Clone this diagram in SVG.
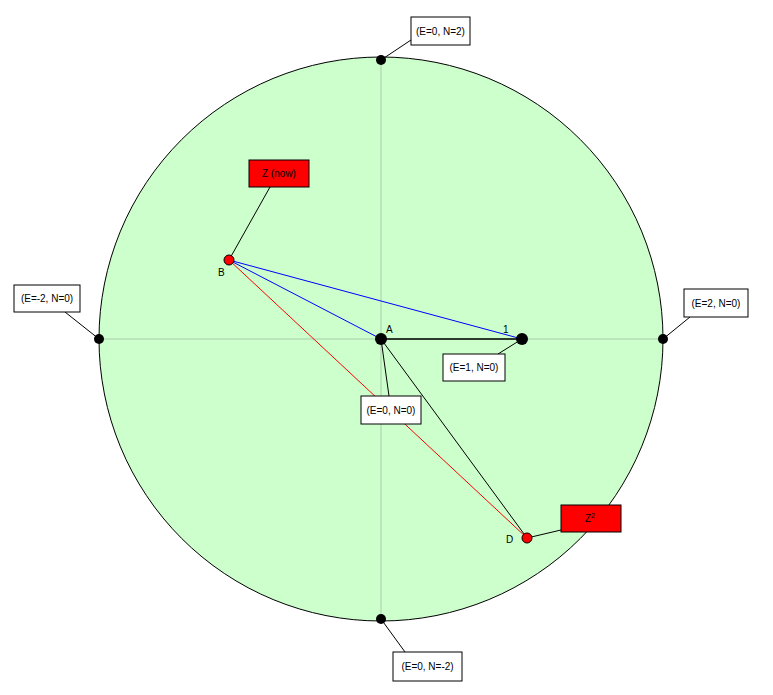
<svg xmlns="http://www.w3.org/2000/svg" width="773" height="695" viewBox="0 0 773 695">
<style>
text{font-family:"Liberation Sans",Arial,sans-serif;font-size:10px;fill:#000}
.lbl{fill:#fff;stroke:#000;stroke-width:1}
.red{fill:#f00;stroke:#000;stroke-width:1}
.lead{stroke:#000;stroke-width:1;fill:none}
.pt{fill:#000}
.rp{fill:#f00;stroke:#000;stroke-width:1}
.sh{fill:#999;opacity:0.5}
</style>
<rect width="773" height="695" fill="#fff"/>
<g id="disc">
<circle cx="381" cy="339" r="282" fill="#ccffcc" stroke="#000" stroke-width="1"/>
<line x1="99" y1="339" x2="663" y2="339" stroke="#aaccaa" stroke-width="1"/>
<line x1="381" y1="57" x2="381" y2="621" stroke="#aaccaa" stroke-width="1"/>
</g>
<g id="connectors">
<line x1="229" y1="260" x2="381" y2="339" stroke="#0000ff"/>
<line x1="229" y1="260" x2="522" y2="339" stroke="#0000ff"/>
<line x1="229" y1="260" x2="527" y2="538" stroke="#ff0000"/>
<line x1="381" y1="339" x2="527" y2="538" stroke="#000"/>
<line x1="381" y1="339" x2="522" y2="339" stroke="#000" stroke-width="1.5"/>
<line class="lead" x1="389" y1="396" x2="381" y2="339"/>
<line class="lead" x1="498" y1="354" x2="522" y2="339"/>
<line class="lead" x1="270" y1="187" x2="229" y2="260"/>
<line class="lead" x1="561" y1="530" x2="527" y2="538"/>
<line class="lead" x1="411" y1="40" x2="381" y2="60"/>
<line class="lead" x1="405" y1="652" x2="381" y2="619"/>
<line class="lead" x1="65" y1="312" x2="99" y2="339"/>
<line class="lead" x1="690" y1="317" x2="663" y2="339"/>
</g>
<g id="nA"><circle class="pt" cx="381" cy="339" r="6"/><text x="386" y="333">A</text></g>
<g id="n1"><circle class="pt" cx="522" cy="339" r="6"/><text x="503" y="333">1</text></g>
<g id="nTop"><circle class="pt" cx="381" cy="60" r="5"/></g>
<g id="nBottom"><circle class="pt" cx="381" cy="619" r="5"/></g>
<g id="nLeft"><circle class="pt" cx="99" cy="339" r="5"/></g>
<g id="nRight"><circle class="pt" cx="663" cy="339" r="5"/></g>
<g id="nB"><circle class="rp" cx="229" cy="260" r="5"/><text x="218" y="276">B</text></g>
<g id="nD"><circle class="rp" cx="527" cy="538" r="5"/><text x="506" y="543">D</text></g>
<g id="lTop"><rect class="lbl" x="411" y="17" width="59" height="28"/><text x="440.5" y="35" text-anchor="middle">(E=0, N=2)</text></g>
<g id="lBottom"><rect class="lbl" x="393" y="652" width="69" height="29"/><text x="427.5" y="670" text-anchor="middle">(E=0, N=-2)</text></g>
<g id="lLeft"><rect class="lbl" x="14" y="285" width="66" height="27"/><text x="47" y="302" text-anchor="middle">(E=-2, N=0)</text></g>
<g id="lRight"><rect class="lbl" x="684" y="289" width="64" height="28"/><text x="716" y="307" text-anchor="middle">(E=2, N=0)</text></g>
<g id="lA"><rect class="lbl" x="361" y="396" width="60" height="28"/><text x="391" y="414" text-anchor="middle">(E=0, N=0)</text></g>
<g id="l1"><rect class="lbl" x="443" y="354" width="62" height="27"/><text x="474" y="371" text-anchor="middle">(E=1, N=0)</text></g>
<g id="lZnow"><rect class="red" x="249" y="160" width="60" height="27"/><text x="279" y="177" text-anchor="middle">Z (now)</text></g>
<g id="lZ2"><rect class="red" x="561" y="505" width="60" height="27"/><text x="590" y="522" text-anchor="middle">Z<tspan font-size="7" dy="-4">2</tspan></text></g>
</svg>
